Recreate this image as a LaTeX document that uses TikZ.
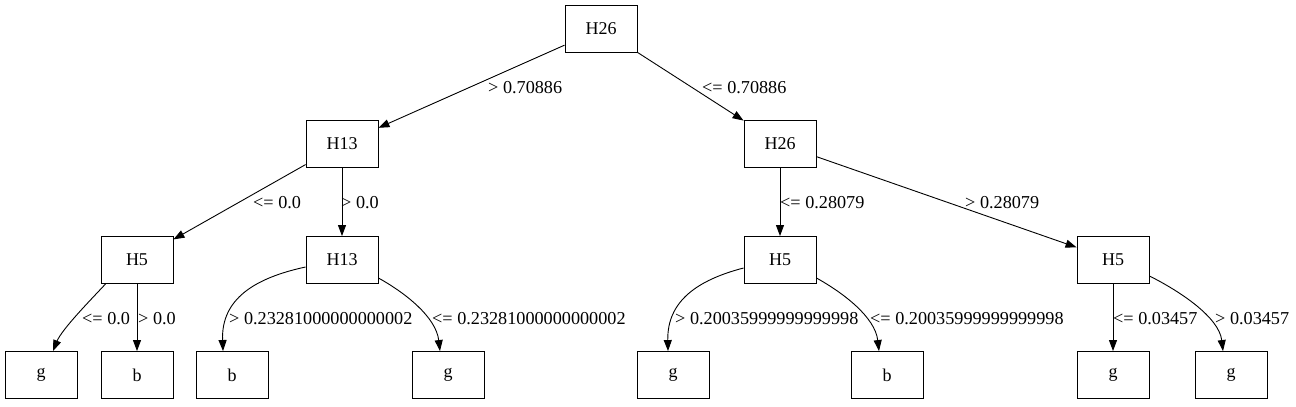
\documentclass[tikz,border=0pt]{standalone}
\usepackage{fontspec}
\setmainfont{Liberation Serif}
\usetikzlibrary{arrows.meta}
\begin{document}
\begin{tikzpicture}[x=1pt,y=-1pt,
  box/.style={draw, line width=0.9pt, minimum width=72pt, minimum height=47pt, inner sep=0pt, font=\fontsize{18}{21}\selectfont},
  lbl/.style={anchor=base west, inner sep=0pt, font=\fontsize{18.2}{21}\selectfont},
  edge/.style={line width=0.9pt, -{Triangle[length=11pt,width=8pt]}}]
\useasboundingbox (0,0) rectangle (1296,407);
% internal nodes
\node[box] (root) at (601,29) {H26};
\node[box] (n13) at (342,144) {H13};
\node[box] (n26) at (780,144) {H26};
\node[box] (h5a) at (137,260) {H5};
\node[box] (h13b) at (342,260) {H13};
\node[box] (h5b) at (780,260) {H5};
\node[box] (h5c) at (1113,260) {H5};
% leaves
\node[box] (l1) at (41,375) {g};
\node[box] (l2) at (137,375) {b};
\node[box] (l3) at (232,375) {b};
\node[box] (l4) at (448,375) {g};
\node[box] (l5) at (673,375) {g};
\node[box] (l6) at (887,375) {b};
\node[box] (l7) at (1113,375) {g};
\node[box] (l8) at (1231,375) {g};
% straight edges
\draw[edge] (root) -- (n13);
\draw[edge] (root) -- (n26);
\draw[edge] (n13) -- (h5a);
\draw[edge] (n13) -- (h13b);
\draw[edge] (n26) -- (h5b);
\draw[edge] (n26) -- (h5c);
\draw[edge] (h5a) -- (l2);
\draw[edge] (h5c) -- (l7);
% curved edges
\draw[edge] ([xshift=5pt]h5a.south west) .. controls +(-14,15) and +(9,-22) .. ([xshift=12pt]l1.north);
\draw[edge] ([yshift=-7pt]h13b.west) .. controls +(-51,11) and +(-2,-52) .. ([xshift=-9pt]l3.north);
\draw[edge] ([yshift=-18pt]h13b.east) .. controls +(27,15) and +(-4,-34) .. ([xshift=-8pt]l4.north);
\draw[edge] ([yshift=-8pt]h5b.west) .. controls +(-46,12) and +(-1,-50) .. ([xshift=-5pt]l5.north);
\draw[edge] ([yshift=-18pt]h5b.east) .. controls +(27,15) and +(-4,-34) .. ([xshift=-8pt]l6.north);
\draw[edge] ([yshift=-16pt]h5c.east) .. controls +(30,15) and +(-4,-34) .. ([xshift=-8pt]l8.north);
% labels
\node[lbl] (la) at (488,93) {> 0.70886};
\node[lbl] (lb) at (702,93) {<= 0.70886};
\node[lbl] (lc) at (253,208) {<= 0.0};
\node[lbl] (ld) at (341,208) {> 0.0};
\node[lbl] (le) at (780,208) {<= 0.28079};
\node[lbl] (lf) at (965,208) {> 0.28079};
\node[lbl] (lg) at (82,324) {<= 0.0};
\node[lbl] (lh) at (138,324) {> 0.0};
\node[lbl] (li) at (229,324) {> 0.23281000000000002};
\node[lbl] (lj) at (432,324) {<= 0.23281000000000002};
\node[lbl] (lk) at (675,324) {> 0.20035999999999998};
\node[lbl] (ll) at (870,324) {<= 0.20035999999999998};
\node[lbl] (lm) at (1113,324) {<= 0.03457};
\node[lbl] (ln) at (1215,324) {> 0.03457};
\end{tikzpicture}
\end{document}
